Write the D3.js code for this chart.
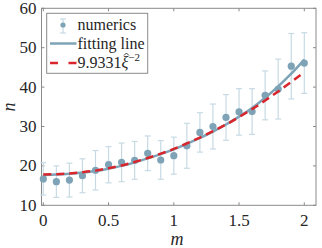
<!DOCTYPE html>
<html><head><meta charset="utf-8">
<script src="https://cdn.jsdelivr.net/npm/d3@7"></script>
<style>body{margin:0;background:#fff}svg{display:block}</style>
</head><body><svg id="c" width="322" height="248" font-family="Liberation Serif"></svg>
<script>
const mVals=[0,0.1,0.2,0.3,0.4,0.5,0.6,0.7,0.8,0.9,1.0,1.1,1.2,1.3,1.4,1.5,1.6,1.7,1.8,1.9,2.0];
const nVals=[16.7,16.0,16.4,17.5,18.9,20.3,20.9,21.4,23.2,21.5,22.6,25.1,28.5,30.0,32.3,33.7,33.8,37.9,39.5,45.3,46.1];
const errVals=[4.1,4.0,4.3,4.3,5.0,4.6,4.9,4.8,4.4,4.9,4.7,5.7,5.0,5.7,5.8,5.9,5.8,6.2,7.6,8.3,7.7];
const fitVals=[17.7,17.8,18.0,18.3,18.7,19.3,20.0,20.9,21.9,23.0,24.2,25.6,27.1,28.7,30.5,32.5,34.7,37.3,40.2,43.4,47.0];
const theoryVals=[17.8,17.9,18.1,18.4,18.8,19.4,20.1,21.0,22.0,23.1,24.3,25.7,27.2,28.8,30.5,32.4,34.4,36.6,38.9,41.3,43.8];
const xTicks=[0,0.5,1,1.5,2];
const xTickLabels=["0","0.5","1","1.5","2"];
const yTicks=[10,20,30,40,50,60];
const legendLabels=["numerics","fitting line","9.9331"];

const FONT="Liberation Serif";
const TXT="#262626";
const svg=d3.select("#c");
const L=41.5,R=316,T=8.3,B=205.3;
const x=d3.scaleLinear().domain([0,2]).range([43.3,304.3]);
const y=d3.scaleLinear().domain([10,60]).range([B,T]);
const axisCol="#8a8a8a";
const ptCol="#7ea3b7", errCol="#c7dae4", fitCol="#7ea3b7", redCol="#d9262c";

svg.append("rect").attr("x",L).attr("y",T).attr("width",R-L).attr("height",B-T)
  .attr("fill","none").attr("stroke",axisCol).attr("stroke-width",1);
xTicks.forEach(v=>{
  svg.append("line").attr("x1",x(v)).attr("x2",x(v)).attr("y1",B).attr("y2",B-3).attr("stroke",axisCol);
  svg.append("line").attr("x1",x(v)).attr("x2",x(v)).attr("y1",T).attr("y2",T+3).attr("stroke",axisCol);
});
yTicks.forEach(v=>{
  svg.append("line").attr("x1",L).attr("x2",L+3).attr("y1",y(v)).attr("y2",y(v)).attr("stroke",axisCol);
  svg.append("line").attr("x1",R).attr("x2",R-3).attr("y1",y(v)).attr("y2",y(v)).attr("stroke",axisCol);
});
xTicks.forEach((v,i)=>{
  svg.append("text").attr("font-family",FONT).attr("fill",TXT).attr("x",x(v)).attr("y",226).attr("text-anchor","middle").attr("font-size",17).text(xTickLabels[i]);
});
yTicks.forEach(v=>{
  svg.append("text").attr("font-family",FONT).attr("fill",TXT).attr("x",36.5).attr("y",y(v)+5.5).attr("text-anchor","end").attr("font-size",17).text(v);
});
svg.append("text").attr("font-family",FONT).attr("fill",TXT).attr("x",177).attr("y",244.5).attr("text-anchor","middle").attr("font-size",18).attr("font-style","italic").text("m");
svg.append("text").attr("font-family",FONT).attr("fill",TXT).attr("transform","translate(15,107) rotate(-90)").attr("text-anchor","middle").attr("font-size",18).attr("font-style","italic").text("n");

const eg=svg.append("g").attr("stroke",errCol).attr("stroke-width",1.2);
mVals.forEach((m,i)=>{
  const cx=x(m),y1=y(nVals[i]-errVals[i]),y2=y(nVals[i]+errVals[i]);
  eg.append("line").attr("x1",cx).attr("x2",cx).attr("y1",y1).attr("y2",y2);
  eg.append("line").attr("x1",cx-3).attr("x2",cx+3).attr("y1",y1).attr("y2",y1);
  eg.append("line").attr("x1",cx-3).attr("x2",cx+3).attr("y1",y2).attr("y2",y2);
});
const line=d3.line().x((d,i)=>x(mVals[i])).y(d=>y(d)).curve(d3.curveMonotoneX);
svg.append("path").attr("d",line(fitVals)).attr("fill","none").attr("stroke",fitCol).attr("stroke-width",2.5);
svg.append("g").selectAll("circle").data(nVals).join("circle")
  .attr("cx",(d,i)=>x(mVals[i])).attr("cy",d=>y(d)).attr("r",3.6).attr("fill",ptCol);
svg.append("path").attr("d",line(theoryVals)).attr("fill","none").attr("stroke",redCol).attr("stroke-width",2.5).attr("stroke-dasharray","8,5");

const lg=svg.append("g");
lg.append("rect").attr("x",46.7).attr("y",13.3).attr("width",101).attr("height",60).attr("fill","#fff").attr("stroke",axisCol).attr("stroke-width",1);
lg.append("line").attr("x1",63).attr("x2",63).attr("y1",19).attr("y2",33).attr("stroke",errCol).attr("stroke-width",1.2);
lg.append("line").attr("x1",60).attr("x2",66).attr("y1",19).attr("y2",19).attr("stroke",errCol).attr("stroke-width",1.2);
lg.append("line").attr("x1",60).attr("x2",66).attr("y1",33).attr("y2",33).attr("stroke",errCol).attr("stroke-width",1.2);
lg.append("circle").attr("cx",63).attr("cy",25).attr("r",2.6).attr("fill",ptCol);
lg.append("line").attr("x1",50).attr("x2",76.5).attr("y1",43.5).attr("y2",43.5).attr("stroke",fitCol).attr("stroke-width",2.5);
lg.append("line").attr("x1",50).attr("x2",76.5).attr("y1",63).attr("y2",63).attr("stroke",redCol).attr("stroke-width",2.5).attr("stroke-dasharray","8,10.5");
lg.append("text").attr("font-family",FONT).attr("fill",TXT).attr("x",77.5).attr("y",30).attr("font-size",16).text(legendLabels[0]);
lg.append("text").attr("font-family",FONT).attr("fill",TXT).attr("x",77.5).attr("y",49).attr("font-size",16).text(legendLabels[1]);
const t3=lg.append("text").attr("font-family",FONT).attr("fill",TXT).attr("x",77.5).attr("y",68).attr("font-size",16);
t3.append("tspan").text(legendLabels[2]);
t3.append("tspan").attr("font-style","italic").text("\u03BE");
t3.append("tspan").attr("font-size",11).attr("dy",-7).text("\u22122");
// hat over xi drawn as a small path
let hx=127.5, hw=8;
try{ const n=t3.node(); hx=n.getStartPositionOfChar(6).x; hw=n.getSubStringLength(6,1);}catch(e){}
const hc=hx+hw/2+1.5;
lg.append("path").attr("d",`M${hc-2.5},${55.5}L${hc},${53}L${hc+2.5},${55.5}`).attr("fill","none").attr("stroke",TXT).attr("stroke-width",0.9);
</script></body></html>
